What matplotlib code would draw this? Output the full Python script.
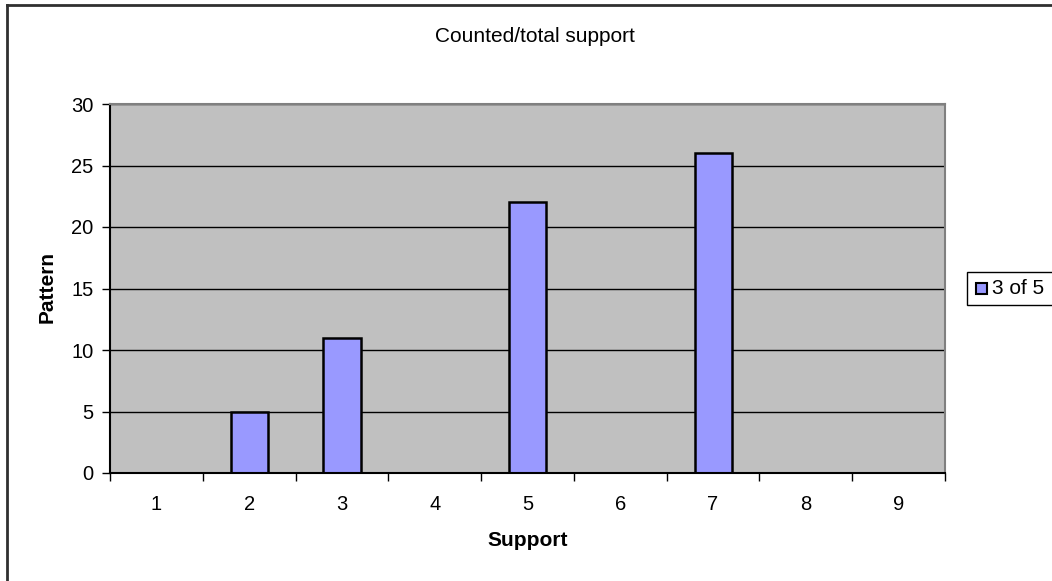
import matplotlib
matplotlib.use("Agg")
import matplotlib.pyplot as plt
from matplotlib.patches import Rectangle
from matplotlib.lines import Line2D

categories = [1, 2, 3, 4, 5, 6, 7, 8, 9]
pattern_counts = [0, 5, 11, 0, 22, 0, 26, 0, 0]
series_name = "3 of 5"
y_ticks = [0, 5, 10, 15, 20, 25, 30]

plt.rcParams["font.family"] = ["Liberation Sans", "DejaVu Sans"]

W, H = 1052, 581
fig = plt.figure(figsize=(W / 100, H / 100), dpi=100)
fig.patch.set_facecolor("white")

# plot area in pixel terms
left, right, top, bottom = 110, 945, 104, 473
ax = fig.add_axes([left / W, 1 - bottom / H, (right - left) / W, (bottom - top) / H])
ax.set_facecolor("#C0C0C0")

positions = list(range(len(categories)))
ax.bar(positions, pattern_counts, width=0.4, color="#9999FF",
       edgecolor="black", linewidth=1.8, zorder=3)

ax.set_xlim(-0.5, len(categories) - 0.5)
ax.set_ylim(0, 30)
ax.set_yticks(y_ticks)
ax.set_yticklabels([str(v) for v in y_ticks], fontsize=14.5)
for v in y_ticks[1:]:
    ax.axhline(v, color="black", linewidth=1.0, zorder=1)

# category labels centred, tick marks on category boundaries
ax.set_xticks([p - 0.5 for p in positions] + [len(categories) - 0.5])
ax.set_xticklabels([])
ax.set_xticks(positions, minor=True)
ax.set_xticklabels([str(c) for c in categories], minor=True, fontsize=14.5)
ax.tick_params(axis="x", which="minor", length=0, pad=16)
ax.tick_params(axis="x", which="major", length=6, width=1.0, direction="out")
ax.tick_params(axis="y", length=6, width=1.0, direction="out", pad=6)

for side in ("top", "right"):
    ax.spines[side].set_color("#808080")
    ax.spines[side].set_linewidth(1.5)
for side in ("left", "bottom"):
    ax.spines[side].set_color("black")
    ax.spines[side].set_linewidth(1.5)
ax.spines["bottom"].set_zorder(4)

fig.text(535 / W, 1 - 36 / H, "Counted/total support", ha="center", va="center", fontsize=15)
fig.text(47 / W, 1 - 287 / H, "Pattern", ha="center", va="center", rotation=90,
         fontsize=15, fontweight="bold")
fig.text(528 / W, 1 - 541 / H, "Support", ha="center", va="center",
         fontsize=15, fontweight="bold")

# chart-area border
fig.add_artist(Line2D([7 / W, 7 / W], [1 - 5 / H, 0], transform=fig.transFigure,
                      color="#303030", linewidth=2.0))
fig.add_artist(Line2D([7 / W, 1], [1 - 5 / H, 1 - 5 / H], transform=fig.transFigure,
                      color="#303030", linewidth=2.0))

# legend
fig.add_artist(Rectangle((967 / W, 1 - 305 / H), 100 / W, 33 / H, transform=fig.transFigure,
                         facecolor="white", edgecolor="black", linewidth=1.0))
fig.add_artist(Rectangle((976 / W, 1 - 294 / H), 11 / W, 11 / H, transform=fig.transFigure,
                         facecolor="#9999FF", edgecolor="black", linewidth=1.5))
fig.text(992 / W, 1 - 288.5 / H, series_name, ha="left", va="center", fontsize=15)

fig.savefig("out.png", dpi=100, facecolor="white")
